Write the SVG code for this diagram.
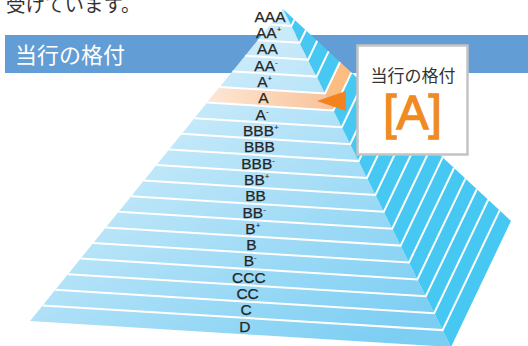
<svg xmlns="http://www.w3.org/2000/svg" width="528" height="346" viewBox="0 0 528 346">
<defs>
<linearGradient id="gf" gradientUnits="userSpaceOnUse" x1="190" y1="20" x2="390" y2="340">
<stop offset="0" stop-color="#d9f0fb"/>
<stop offset="1" stop-color="#7ccef3"/>
</linearGradient>
<linearGradient id="go" gradientUnits="userSpaceOnUse" x1="210" y1="95" x2="335" y2="100">
<stop offset="0" stop-color="#fde6d4"/>
<stop offset="1" stop-color="#f8c299"/>
</linearGradient>
</defs>
<style>
.jp{font-family:"Noto Sans CJK JP","Noto Sans CJK SC",sans-serif}
.lbl{font-family:"Liberation Sans",Arial,sans-serif;font-size:15.5px;fill:#262626;stroke:#262626;stroke-width:0.25;text-anchor:middle}
.sup{font-size:8px;stroke-width:0.15}
.sep{stroke:#fff;stroke-width:2;fill:none;stroke-linejoin:miter}
.front{fill:url(#gf)}
.side{fill:#46c8f3}
</style>
<text class="jp" x="6" y="11.5" font-size="19.5" fill="#333">受けています。</text>
<g id="header">
<rect x="5" y="35" width="523" height="38" fill="#629dd5"/>
<text class="jp" x="15" y="63" font-size="22" fill="#fff">当行の格付</text>
</g>
<g id="pyramid">
<polygon class="front" points="283,9 30,321 451,347"/>
<polygon class="side" points="283,9 511,221 451,347"/>
<polygon id="row-A-front" fill="url(#go)" points="219.75,87 325,93.5 333.4,110.4 207.1,102.6"/>
<polygon id="row-A-side" fill="#fbbd82" points="325,93.5 340,62 351.4,72.6 333.4,110.4"/>
<g id="separators" class="sep">
<polyline points="270.35,24.6 291.4,25.9 294.4,19.6"/>
<polyline points="257.7,40.2 299.8,42.8 305.8,30.2"/>
<polyline points="245.05,55.8 308.2,59.7 317.2,40.8"/>
<polyline points="232.4,71.4 316.6,76.6 328.6,51.4"/>
<polyline points="219.75,87 325,93.5 340,62"/>
<polyline points="207.1,102.6 333.4,110.4 351.4,72.6"/>
<polyline points="194.45,118.2 341.8,127.3 362.8,83.2"/>
<polyline points="181.8,133.8 350.2,144.2 374.2,93.8"/>
<polyline points="169.15,149.4 358.6,161.1 385.6,104.4"/>
<polyline points="156.5,165 367,178 397,115"/>
<polyline points="143.85,180.6 375.4,194.9 408.4,125.6"/>
<polyline points="131.2,196.2 383.8,211.8 419.8,136.2"/>
<polyline points="118.55,211.8 392.2,228.7 431.2,146.8"/>
<polyline points="105.9,227.4 400.6,245.6 442.6,157.4"/>
<polyline points="93.25,243 409,262.5 454,168"/>
<polyline points="80.6,258.6 417.4,279.4 465.4,178.6"/>
<polyline points="67.95,274.2 425.8,296.3 476.8,189.2"/>
<polyline points="55.3,289.8 434.2,313.2 488.2,199.8"/>
<polyline points="42.65,305.4 442.6,330.1 499.6,210.4"/>
</g>
</g>
<g id="labels" class="lbl">
<text id="r-AAA" x="270" y="21.8">AAA</text>
<text id="r-AAp" x="268.7" y="38.1">AA<tspan class="sup" dy="-6">+</tspan></text>
<text id="r-AA" x="267.4" y="54.4">AA</text>
<text id="r-AAm" x="266" y="70.7">AA<tspan class="sup" dy="-6">-</tspan></text>
<text id="r-Ap" x="264.7" y="87">A<tspan class="sup" dy="-6">+</tspan></text>
<text id="r-A" x="263.4" y="103.3">A</text>
<text id="r-Am" x="262.1" y="119.6">A<tspan class="sup" dy="-6">-</tspan></text>
<text id="r-BBBp" x="260.8" y="136">BBB<tspan class="sup" dy="-6">+</tspan></text>
<text id="r-BBB" x="259.4" y="152.3">BBB</text>
<text id="r-BBBm" x="258.1" y="168.6">BBB<tspan class="sup" dy="-6">-</tspan></text>
<text id="r-BBp" x="256.8" y="184.9">BB<tspan class="sup" dy="-6">+</tspan></text>
<text id="r-BB" x="255.5" y="201.2">BB</text>
<text id="r-BBm" x="254.2" y="217.5">BB<tspan class="sup" dy="-6">-</tspan></text>
<text id="r-Bp" x="252.8" y="233.8">B<tspan class="sup" dy="-6">+</tspan></text>
<text id="r-B" x="251.5" y="250.1">B</text>
<text id="r-Bm" x="250.2" y="266.4">B<tspan class="sup" dy="-6">-</tspan></text>
<text id="r-CCC" x="248.9" y="282.8">CCC</text>
<text id="r-CC" x="247.6" y="299.1">CC</text>
<text id="r-C" x="246.2" y="315.4">C</text>
<text id="r-D" x="244.9" y="331.7">D</text>
</g>
<g id="arrow">
<polygon points="317,101 346,91 346,111" fill="#f4821f"/>
</g>
<g id="callout">
<rect x="357.5" y="45.5" width="110" height="109" fill="#fff" stroke="#c3c3c3" stroke-width="2.5"/>
<text class="jp" x="413" y="82" font-size="17" fill="#333" text-anchor="middle">当行の格付</text>
<text x="412.5" y="129" font-family="Liberation Sans, Arial, sans-serif" font-size="48" fill="#f08a22" stroke="#f08a22" stroke-width="1.3" text-anchor="middle">[A]</text>
</g>
</svg>
